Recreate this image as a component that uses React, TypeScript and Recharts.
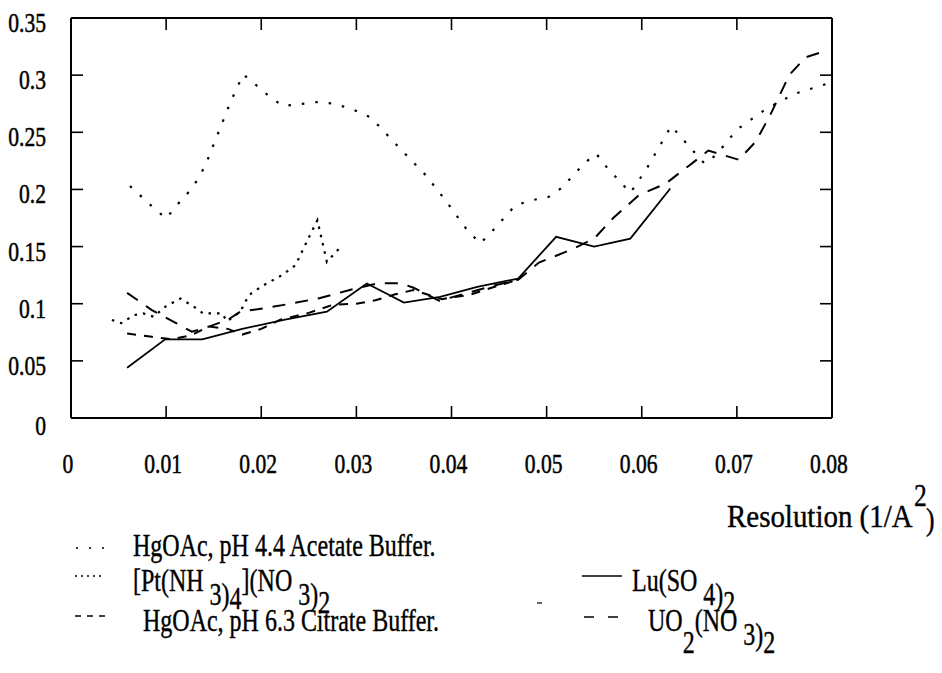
import React from 'react';
import { LineChart, Line, XAxis, YAxis, Customized } from 'recharts';

// Series: HgOAc, pH 4.4 Acetate Buffer (sparse dotted)
const acetateX = [0.0062, 0.0075, 0.0088, 0.0100, 0.0111, 0.0124, 0.0134, 0.0142, 0.0155, 0.0168, 0.0181, 0.0195, 0.0209, 0.0223, 0.0241, 0.0259, 0.0276, 0.0294, 0.0315, 0.0348, 0.0373, 0.0395, 0.0416, 0.0430, 0.0443, 0.0467, 0.0484, 0.0502, 0.0515, 0.0540, 0.0552, 0.0563, 0.0588, 0.0605, 0.0631, 0.0654, 0.0666, 0.0678, 0.0700, 0.0730, 0.0761, 0.0797];
const acetateY = [0.203, 0.193, 0.183, 0.1745, 0.186, 0.198, 0.2095, 0.2226, 0.250, 0.277, 0.3007, 0.291, 0.281, 0.273, 0.2747, 0.2765, 0.275, 0.2707, 0.263, 0.234, 0.2124, 0.189, 0.165, 0.1527, 0.1637, 0.186, 0.1905, 0.1934, 0.2008, 0.223, 0.2314, 0.2197, 0.197, 0.218, 0.2555, 0.2337, 0.2226, 0.23, 0.2523, 0.27, 0.2838, 0.293];

// Series: [Pt(NH3)4](NO3)2 (dense dotted)
const ptX = [0.0043, 0.0053, 0.0066, 0.0076, 0.0087, 0.0099, 0.0115, 0.0132, 0.0139, 0.0159, 0.0164, 0.0178, 0.0187, 0.0202, 0.0222, 0.0236, 0.0250, 0.0259, 0.0269, 0.0285];
const ptY = [0.0857, 0.083, 0.090, 0.0915, 0.0886, 0.0973, 0.1046, 0.0959, 0.0915, 0.0915, 0.0845, 0.093, 0.1075, 0.116, 0.125, 0.1337, 0.158, 0.173, 0.1366, 0.151];

// Series: HgOAc, pH 6.3 Citrate Buffer (short dashes)
const citrateX = [0.0059, 0.0085, 0.0105, 0.0125, 0.0145, 0.0165, 0.0180, 0.0200, 0.0220, 0.0250, 0.0275, 0.0300, 0.0320, 0.0340, 0.0360, 0.0390, 0.0420, 0.0450, 0.0470];
const citrateY = [0.074, 0.071, 0.069, 0.072, 0.080, 0.078, 0.073, 0.078, 0.086, 0.092, 0.099, 0.100, 0.103, 0.108, 0.112, 0.104, 0.108, 0.116, 0.121];

// Series: Lu(SO4)2 (solid)
const luX = [0.0059, 0.0099, 0.0138, 0.0180, 0.0225, 0.0269, 0.0311, 0.0350, 0.0388, 0.0427, 0.0470, 0.0510, 0.0550, 0.0588, 0.0630];
const luY = [0.044, 0.0688, 0.0688, 0.078, 0.086, 0.093, 0.1177, 0.101, 0.106, 0.1148, 0.122, 0.1585, 0.150, 0.157, 0.2008];

// Series: UO2(NO3)2 (long dashes)
const uoX = [0.0059, 0.0085, 0.0111, 0.0127, 0.0145, 0.0165, 0.0178, 0.0203, 0.0231, 0.0262, 0.0293, 0.0323, 0.0346, 0.0360, 0.0387, 0.0415, 0.0445, 0.0470, 0.0492, 0.0525, 0.0550, 0.0570, 0.0597, 0.0625, 0.0650, 0.0670, 0.0702, 0.0720, 0.0735, 0.0755, 0.0772, 0.0792];
const uoY = [0.1095, 0.0944, 0.0828, 0.0755, 0.080, 0.086, 0.093, 0.096, 0.100, 0.105, 0.112, 0.118, 0.118, 0.114, 0.1026, 0.109, 0.116, 0.121, 0.136, 0.147, 0.157, 0.175, 0.195, 0.205, 0.221, 0.234, 0.226, 0.242, 0.265, 0.300, 0.3155, 0.321];

const xTicks = [0, 0.01, 0.02, 0.03, 0.04, 0.05, 0.06, 0.07, 0.08];
const xTickLabels = ['0', '0.01', '0.02', '0.03', '0.04', '0.05', '0.06', '0.07', '0.08'];
const yTicks = [0, 0.05, 0.1, 0.15, 0.2, 0.25, 0.3, 0.35];
const yTickLabels = ['0', '0.05', '0.1', '0.15', '0.2', '0.25', '0.3', '0.35'];

const zip = (xs: number[], ys: number[]) => xs.map((x, i) => ({ x, y: ys[i] }));

const FONT = '"Liberation Serif", "DejaVu Serif", serif';
const TICK_LEN = 12;

const Txt = ({ x, y, children, size = 27, anchor = 'start', sx = 0.8 }: any) => (
  <g transform={`translate(${x},${y}) scale(${sx},1)`}>
    <text x={0} y={0} textAnchor={anchor} fontSize={size} fontFamily={FONT} fill="#000" stroke="#000" strokeWidth={0.5}>
      {children}
    </text>
  </g>
);

const LeftTick = (props: any) => {
  const { x, y, payload } = props;
  const v = payload.value;
  const inner = v > 0 && v < 0.35;
  return (
    <g>
      {inner && <line x1={x} x2={x + TICK_LEN} y1={y} y2={y} stroke="#000" strokeWidth={1.6} />}
      <Txt x={x - 25} y={y + (v === 0 ? 17 : 14)} anchor="end">{yTickLabels[yTicks.indexOf(v)]}</Txt>
    </g>
  );
};

const RightTick = (props: any) => {
  const { x, y, payload } = props;
  const v = payload.value;
  if (!(v > 0 && v < 0.35)) return <g />;
  return <line x1={x} x2={x - TICK_LEN} y1={y} y2={y} stroke="#000" strokeWidth={1.6} />;
};

const BottomTick = (props: any) => {
  const { x, y, payload } = props;
  const v = payload.value;
  const inner = v > 0 && v < 0.08;
  return (
    <g>
      {inner && <line x1={x} x2={x} y1={y} y2={y - TICK_LEN} stroke="#000" strokeWidth={1.6} />}
      <Txt x={x - 3} y={y + 55} anchor="middle">{xTickLabels[xTicks.indexOf(v)]}</Txt>
    </g>
  );
};

const TopTick = (props: any) => {
  const { x, y, payload } = props;
  const v = payload.value;
  if (!(v > 0 && v < 0.08)) return <g />;
  return <line x1={x} x2={x} y1={y} y2={y + TICK_LEN} stroke="#000" strokeWidth={1.6} />;
};

const Sub = ({ dy, children }: any) => (
  <tspan dy={dy}>{children}</tspan>
);

const LegendLayer = () => (
  <g fontFamily={FONT} fill="#000" stroke="#000" strokeWidth={0.4}>
    {/* axis title */}
    <g transform="translate(727,527) scale(0.8,1)">
      <text fontSize={32} textLength={232} lengthAdjust="spacingAndGlyphs">Resolution (1/A</text>
    </g>
    <g transform="translate(914,506) scale(0.8,1)">
      <text fontSize={32}>2</text>
    </g>
    <g transform="translate(926,530) scale(0.8,1)">
      <text fontSize={32}>)</text>
    </g>
    {/* row 1 */}
    <line x1={76} x2={106} y1={548} y2={548} stroke="#000" strokeWidth={1.5} strokeDasharray="2 11" />
    <g transform="translate(133,556) scale(0.75,1)">
      <text fontSize={32}>HgOAc, pH 4.4 Acetate Buffer.</text>
    </g>
    {/* row 2 */}
    <line x1={75} x2={104} y1={576} y2={576} stroke="#000" strokeWidth={1.5} strokeDasharray="2 4" />
    <g transform="translate(133,591) scale(0.75,1)">
      <text fontSize={32}>
        [Pt(NH <Sub dy={14}>3)</Sub><Sub dy={4}>4</Sub><Sub dy={-18}>](NO </Sub><Sub dy={14}>3)</Sub><Sub dy={8}>2</Sub>
      </text>
    </g>
    <line x1={537} x2={542} y1={603} y2={603} stroke="#000" strokeWidth={1.2} />
    <line x1={582} x2={622} y1={576} y2={576} stroke="#000" strokeWidth={1.5} />
    <g transform="translate(632,591) scale(0.75,1)">
      <text fontSize={32}>
        Lu(SO <Sub dy={14}>4)</Sub><Sub dy={8}>2</Sub>
      </text>
    </g>
    {/* row 3 */}
    <line x1={75} x2={111} y1={616} y2={616} stroke="#000" strokeWidth={1.5} strokeDasharray="6 6" />
    <g transform="translate(143,631) scale(0.75,1)">
      <text fontSize={32}>HgOAc, pH 6.3 Citrate Buffer.</text>
    </g>
    <line x1={584} x2={622} y1={617} y2={617} stroke="#000" strokeWidth={1.5} strokeDasharray="10 14" />
    <g transform="translate(648,631) scale(0.75,1)">
      <text fontSize={32}>
        UO<Sub dy={22}>2</Sub><Sub dy={-22}>(NO </Sub><Sub dy={14}>3)</Sub><Sub dy={8}>2</Sub>
      </text>
    </g>
  </g>
);

export default function App() {
  return (
    <div style={{ position: 'absolute', left: 0, top: 0, width: 942, height: 673, background: '#fff' }}>
      <LineChart
        width={942}
        height={673}
        margin={{ top: 17, right: 109, bottom: 254, left: 70 }}
      >
        <XAxis
          xAxisId="b"
          type="number"
          dataKey="x"
          domain={[0, 0.08]}
          ticks={xTicks}
          height={1}
          orientation="bottom"
          axisLine={{ stroke: '#000', strokeWidth: 2 }}
          tickLine={false}
          tickSize={0}
          tickMargin={0}
          tick={<BottomTick />}
          interval={0}
          allowDataOverflow
        />
        <XAxis
          xAxisId="t"
          type="number"
          dataKey="x"
          domain={[0, 0.08]}
          ticks={xTicks}
          height={1}
          orientation="top"
          axisLine={{ stroke: '#000', strokeWidth: 2 }}
          tickLine={false}
          tickSize={0}
          tickMargin={0}
          tick={<TopTick />}
          interval={0}
          allowDataOverflow
        />
        <YAxis
          yAxisId="l"
          type="number"
          dataKey="y"
          domain={[0, 0.35]}
          ticks={yTicks}
          width={1}
          orientation="left"
          axisLine={{ stroke: '#000', strokeWidth: 2 }}
          tickLine={false}
          tickSize={0}
          tickMargin={0}
          tick={<LeftTick />}
          interval={0}
          allowDataOverflow
        />
        <YAxis
          yAxisId="r"
          type="number"
          dataKey="y"
          domain={[0, 0.35]}
          ticks={yTicks}
          width={1}
          orientation="right"
          axisLine={{ stroke: '#000', strokeWidth: 2 }}
          tickLine={false}
          tickSize={0}
          tickMargin={0}
          tick={<RightTick />}
          interval={0}
          allowDataOverflow
        />
        <Line xAxisId="b" yAxisId="l" data={zip(acetateX, acetateY)} dataKey="y" type="linear" stroke="#000" strokeWidth={2.2} strokeDasharray="2.5 11" dot={false} isAnimationActive={false} />
        <Line xAxisId="b" yAxisId="l" data={zip(ptX, ptY)} dataKey="y" type="linear" stroke="#000" strokeWidth={2.2} strokeDasharray="2.5 6" dot={false} isAnimationActive={false} />
        <Line xAxisId="b" yAxisId="l" data={zip(citrateX, citrateY)} dataKey="y" type="linear" stroke="#000" strokeWidth={2} strokeDasharray="9 8" dot={false} isAnimationActive={false} />
        <Line xAxisId="b" yAxisId="l" data={zip(luX, luY)} dataKey="y" type="linear" stroke="#000" strokeWidth={1.8} dot={false} isAnimationActive={false} />
        <Line xAxisId="b" yAxisId="l" data={zip(uoX, uoY)} dataKey="y" type="linear" stroke="#000" strokeWidth={2} strokeDasharray="13 10" dot={false} isAnimationActive={false} />
        <Customized component={LegendLayer} />
      </LineChart>
    </div>
  );
}
